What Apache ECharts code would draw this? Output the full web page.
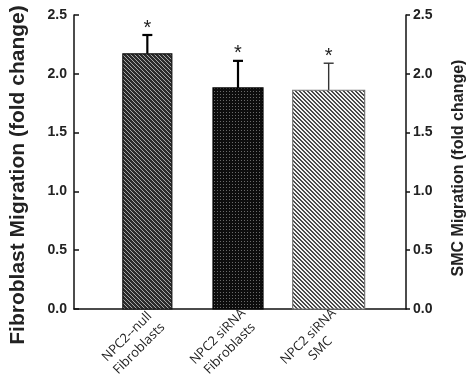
<!DOCTYPE html>
<html>
<head>
<meta charset="utf-8">
<script src="https://cdn.jsdelivr.net/npm/echarts@6/dist/echarts.min.js"></script>
<style>
  html, body { margin: 0; padding: 0; background: #fff; }
  #chart { width: 475px; height: 383px; }
</style>
</head>
<body>
<div id="chart"></div>
<script>
// data
const categories = ['NPC2--null\nFibroblasts', 'NPC2 siRNA\nFibroblasts', 'NPC2 siRNA\nSMC'];
const means = [2.17, 1.88, 1.86];
const sems = [0.16, 0.23, 0.23];
const stars = ['*', '*', '*'];
const yTicks = [0, 0.5, 1.0, 1.5, 2.0, 2.5];

// per-bar look (kept apart from the data)
const barWidths = [49, 50, 72];
const edgeColors = ['#111', '#000', '#777'];
const errColors = ['#000', '#000', '#333'];
const errWidths = [2.2, 2.2, 1.4];

// build a small tiled fill
function makeTile(n, bg, fg, test) {
  const c = document.createElement('canvas');
  c.width = n; c.height = n;
  const ctx = c.getContext('2d');
  ctx.fillStyle = bg;
  ctx.fillRect(0, 0, n, n);
  ctx.fillStyle = fg;
  for (let x = 0; x < n; x++) {
    for (let y = 0; y < n; y++) {
      if (test(x, y)) ctx.fillRect(x, y, 1, 1);
    }
  }
  return { image: c, repeat: 'repeat' };
}

const fills = [
  makeTile(4, '#2b2b2b', '#a8a8a8', (x, y) => ((x - y + 8) % 4) === 0),
  makeTile(3, '#0d0d0d', '#6a6a6a', (x, y) => x === 1 && y === 1),
  makeTile(4, '#f4f4f4', '#4a4a4a', (x, y) => ((x - y + 8) % 4) < 2)
];

const chart = echarts.init(document.getElementById('chart'), null, { renderer: 'canvas' });

const tickFont = {
  fontFamily: '"Liberation Sans Narrow", "Liberation Sans", Arial, sans-serif',
  fontWeight: 'bold', fontSize: 14, color: '#222'
};
const titleFont = { fontFamily: '"Liberation Sans", Arial, sans-serif', fontWeight: 'bold', color: '#222' };

const option = {
  backgroundColor: '#fff',
  animation: false,
  grid: [
    { left: 65, right: 66, top: 15, bottom: 74 },
    { left: 102, right: 101, top: 15, bottom: 74 },
    // labels sit a little to the right of the bars, as in the figure
    { left: 114, right: 89, top: 15, bottom: 74 }
  ],
  xAxis: [
    {
      gridIndex: 0, type: 'value', min: 0, max: 1,
      axisLine: { show: true, onZero: false, lineStyle: { color: '#111', width: 1.5 } },
      axisTick: { show: false }, axisLabel: { show: false }, splitLine: { show: false }
    },
    {
      gridIndex: 1, type: 'category', data: categories, show: false
    },
    {
      gridIndex: 2, type: 'category', data: categories,
      axisLine: { show: false }, axisTick: { show: false }, splitLine: { show: false },
      axisLabel: {
        interval: 0, rotate: 45, margin: 11,
        fontFamily: 'Open Sans', fontSize: 13, color: '#222', lineHeight: 17,
        formatter: v => v.split('\n').map(s => '{a|' + s + '}').join('\n'),
        rich: { a: { width: 74, align: 'center', fontFamily: 'Open Sans', fontSize: 13, color: '#222', lineHeight: 17 } }
      }
    }
  ],
  yAxis: [
    {
      gridIndex: 0, type: 'value', position: 'left', min: 0, max: 2.5, interval: 0.5,
      name: 'Fibroblast Migration (fold change)', nameLocation: 'middle', nameGap: 45,
      nameTextStyle: Object.assign({ fontSize: 21, padding: [0, 26, 0, 0] }, titleFont),
      axisLine: { show: true, lineStyle: { color: '#111', width: 1.5 } },
      axisTick: { show: true, inside: true, length: 5, lineStyle: { color: '#111', width: 1.5 } },
      axisLabel: Object.assign({ margin: 7, formatter: v => yTicks.includes(v) ? v.toFixed(1) : '' }, tickFont),
      splitLine: { show: false }
    },
    {
      gridIndex: 0, type: 'value', position: 'right', min: 0, max: 2.5, interval: 0.5,
      name: 'SMC Migration (fold change)', nameLocation: 'middle', nameGap: 45, nameRotate: 90,
      nameTextStyle: Object.assign({ fontSize: 16, padding: [0, 12, 0, 0] }, titleFont),
      axisLine: { show: true, lineStyle: { color: '#111', width: 1.5 } },
      axisTick: { show: true, inside: false, length: 4, lineStyle: { color: '#111', width: 1.5 } },
      axisLabel: Object.assign({ margin: 7, formatter: v => yTicks.includes(v) ? v.toFixed(1) : '' }, tickFont),
      splitLine: { show: false }
    },
    {
      gridIndex: 1, type: 'value', min: 0, max: 2.5, show: false
    },
    {
      gridIndex: 2, type: 'value', min: 0, max: 2.5, show: false
    }
  ],
  series: [
    {
      type: 'custom',
      xAxisIndex: 1,
      yAxisIndex: 2,
      data: means.map((m, i) => [i, m, sems[i]]),
      encode: { x: 0, y: 1 },
      renderItem: function (params, api) {
        const i = api.value(0);
        const base = api.coord([i, 0]);
        const top = api.coord([i, api.value(1)]);
        const errTop = api.coord([i, api.value(1) + api.value(2)]);
        const w = barWidths[i];
        const x0 = base[0] - w / 2;
        return {
          type: 'group',
          children: [
            {
              type: 'line',
              shape: { x1: top[0], y1: top[1], x2: errTop[0], y2: errTop[1] },
              style: { stroke: errColors[i], lineWidth: errWidths[i] }
            },
            {
              type: 'line',
              shape: { x1: top[0] - 5, y1: errTop[1], x2: top[0] + 5, y2: errTop[1] },
              style: { stroke: errColors[i], lineWidth: errWidths[i] }
            },
            {
              type: 'rect',
              shape: { x: x0, y: top[1], width: w, height: base[1] - top[1] },
              style: { fill: fills[i], stroke: edgeColors[i], lineWidth: 1.2 }
            },
            {
              type: 'text',
              style: {
                text: stars[i], x: top[0], y: errTop[1] + 3,
                align: 'center', verticalAlign: 'bottom',
                font: '20px "Liberation Sans"', fill: '#222'
              }
            }
          ]
        };
      },
      z: 3
    }
  ]
};

chart.setOption(option);
</script>
</body>
</html>
